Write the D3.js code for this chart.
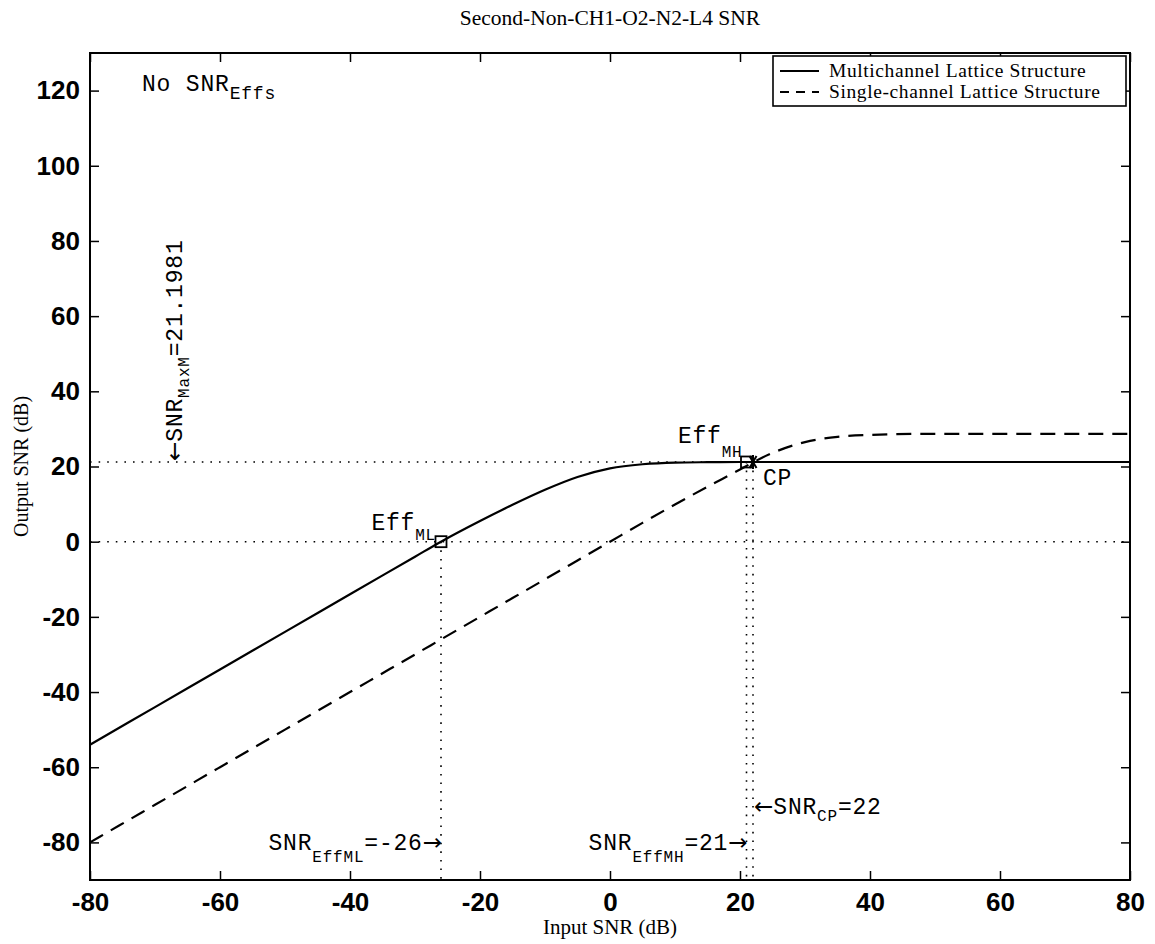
<!DOCTYPE html>
<html>
<head>
<meta charset="utf-8">
<script src="https://cdn.jsdelivr.net/npm/d3@7"></script>
<style>
  html, body { margin: 0; padding: 0; background: #fff; }
  svg { display: block; }
  .tick-label { font-family: "Liberation Sans", Arial, sans-serif; font-weight: bold; font-size: 26px; fill: #000; }
  .serif { font-family: "Liberation Serif", "Times New Roman", serif; fill: #000; }
  .mono { font-family: "Liberation Mono", "Courier New", monospace; fill: #000; letter-spacing: 0.8px; }
  .arrow { font-family: "DejaVu Sans", sans-serif; letter-spacing: 0; }
</style>
</head>
<body>
<svg id="chart" width="1155" height="944"></svg>
<script>
// Input SNR grid (dB)
const inputSNR = [-80, -70, -60, -50, -40, -30, -26, -20, -15, -10, -5, 0, 5, 10, 15, 20, 22, 25, 30, 35, 40, 50, 60, 70, 80];
// Output SNR of the multichannel lattice structure (dB)
const multichannelSNR = [-54, -44, -34, -24, -14, -4, 0, 5.5, 9.8, 13.8, 17.2, 19.5, 20.6, 21.05, 21.15, 21.2, 21.2, 21.2, 21.2, 21.2, 21.2, 21.2, 21.2, 21.2, 21.2];
// Output SNR of the single-channel lattice structure (dB)
const singleChannelSNR = [-80, -70, -60, -50, -40, -30, -26, -20, -15, -10, -5, 0, 5, 9.9, 14.6, 19.2, 21.1, 23.6, 26.5, 27.9, 28.4, 28.7, 28.7, 28.7, 28.7];

const xTickValues = [-80, -60, -40, -20, 0, 20, 40, 60, 80];
const yTickValues = [-80, -60, -40, -20, 0, 20, 40, 60, 80, 100, 120];

// Reference levels and crossing points
const snrMaxM = 21.1981;
const snrEffML = -26;
const snrEffMH = 21;
const snrCP = 22;

const seriesNames = ["Multichannel Lattice Structure", "Single-channel Lattice Structure"];

const svg = d3.select("#chart");
const plotLeft = 90, plotRight = 1130, plotTop = 53, plotBottom = 880;

const x = d3.scaleLinear().domain([-80, 80]).range([plotLeft, plotRight]);
const y = d3.scaleLinear().domain([-90, 130]).range([plotBottom, plotTop]);

// Title
svg.append("text").attr("class", "serif")
  .attr("x", (plotLeft + plotRight) / 2).attr("y", 25)
  .attr("text-anchor", "middle").attr("font-size", 21.5)
  .text("Second-Non-CH1-O2-N2-L4 SNR");

// Axis labels
svg.append("text").attr("class", "serif")
  .attr("x", (plotLeft + plotRight) / 2).attr("y", 934)
  .attr("text-anchor", "middle").attr("font-size", 21)
  .text("Input SNR (dB)");
svg.append("text").attr("class", "serif")
  .attr("transform", `translate(28,${(plotTop + plotBottom) / 2}) rotate(-90)`)
  .attr("text-anchor", "middle").attr("font-size", 20)
  .text("Output SNR (dB)");

// Axes with inward ticks on all four sides
const tickLen = 9;
const fmt = d => String(d);
const gx = svg.append("g").attr("transform", `translate(0,${plotBottom})`)
  .call(d3.axisBottom(x).tickValues(xTickValues).tickFormat(fmt).tickSizeInner(-tickLen).tickSizeOuter(0).tickPadding(13));
const gxTop = svg.append("g").attr("transform", `translate(0,${plotTop})`)
  .call(d3.axisTop(x).tickValues(xTickValues).tickSizeInner(-tickLen).tickSizeOuter(0).tickFormat(""));
const gy = svg.append("g").attr("transform", `translate(${plotLeft},0)`)
  .call(d3.axisLeft(y).tickValues(yTickValues).tickFormat(fmt).tickSizeInner(-tickLen).tickSizeOuter(0).tickPadding(10));
const gyRight = svg.append("g").attr("transform", `translate(${plotRight},0)`)
  .call(d3.axisRight(y).tickValues(yTickValues).tickSizeInner(-tickLen).tickSizeOuter(0).tickFormat(""));

[gx, gxTop, gy, gyRight].forEach(g => {
  g.select(".domain").remove();
  g.selectAll(".tick line").attr("stroke", "#000").attr("stroke-width", 1.5);
  g.selectAll(".tick text").attr("class", "tick-label").attr("font-family", null).attr("font-size", null).attr("fill", null);
});
gx.selectAll(".tick text").attr("dy", "0.71em");

// Plot frame
svg.append("rect")
  .attr("x", plotLeft).attr("y", plotTop)
  .attr("width", plotRight - plotLeft).attr("height", plotBottom - plotTop)
  .attr("fill", "none").attr("stroke", "#000").attr("stroke-width", 2);

const plot = svg.append("g");

// Dotted reference lines
const dotted = (x1, y1, x2, y2) => plot.append("line")
  .attr("x1", x(x1)).attr("y1", y(y1)).attr("x2", x(x2)).attr("y2", y(y2))
  .attr("stroke", "#000").attr("stroke-width", 1.6)
  .attr("stroke-dasharray", "1.6,7").attr("stroke-linecap", "butt");
dotted(-80, 0, 80, 0);
dotted(-80, snrMaxM, 80, snrMaxM);
dotted(snrEffML, 0, snrEffML, -90);
dotted(snrEffMH, snrMaxM, snrEffMH, -90);
dotted(snrCP, snrMaxM, snrCP, -90);

// Curves
const line = d3.line().x(d => x(d[0])).y(d => y(d[1])).curve(d3.curveMonotoneX);
plot.append("path")
  .attr("d", line(d3.zip(inputSNR, multichannelSNR)))
  .attr("fill", "none").attr("stroke", "#000").attr("stroke-width", 2.2);
plot.append("path")
  .attr("d", line(d3.zip(inputSNR, singleChannelSNR)))
  .attr("fill", "none").attr("stroke", "#000").attr("stroke-width", 2.2)
  .attr("stroke-dasharray", "15,9");

// Markers: squares at the efficiency points, asterisk at the crossing point
const sq = 11;
[[snrEffML, 0], [snrEffMH, snrMaxM]].forEach(p => {
  plot.append("rect")
    .attr("x", x(p[0]) - sq / 2).attr("y", y(p[1]) - sq / 2)
    .attr("width", sq).attr("height", sq)
    .attr("fill", "none").attr("stroke", "#000").attr("stroke-width", 1.8);
});
{
  const cx = x(snrCP), cy = y(snrMaxM), r = 7;
  const g = plot.append("g").attr("stroke", "#000").attr("stroke-width", 2);
  [0, 60, 120].forEach(a => {
    const t = a * Math.PI / 180;
    g.append("line")
      .attr("x1", cx - r * Math.cos(t)).attr("y1", cy - r * Math.sin(t))
      .attr("x2", cx + r * Math.cos(t)).attr("y2", cy + r * Math.sin(t));
  });
  g.append("line").attr("x1", cx).attr("y1", cy - r).attr("x2", cx).attr("y2", cy + r);
}

// Text with subscript parts; parts flagged as arrows use a font with full-size arrows
function subText(parent, xp, yp, parts, opts = {}) {
  const t = parent.append("text").attr("class", "mono")
    .attr("x", xp).attr("y", yp)
    .attr("font-size", opts.size || 23)
    .attr("text-anchor", opts.anchor || "start");
  if (opts.transform) t.attr("transform", opts.transform);
  const subDy = opts.subDy || 9;
  let shifted = false;
  parts.forEach(p => {
    const s = t.append("tspan").text(p.text);
    if (p.arrow) s.attr("class", "arrow");
    if (p.sub) {
      s.attr("font-size", p.size || 16);
      if (!shifted) { s.attr("dy", subDy); shifted = true; }
    } else if (shifted) {
      s.attr("dy", -subDy);
      shifted = false;
    }
  });
  return t;
}

subText(plot, x(-72), y(120), [{ text: "No SNR" }, { text: "Effs", sub: true, size: 18 }], { subDy: 8 });

subText(plot, x(snrEffML) - 5, y(0) - 12, [{ text: "Eff" }, { text: "ML", sub: true, size: 16 }], { anchor: "end", subDy: 10 });
subText(plot, x(snrEffMH) - 4, y(snrMaxM) - 19, [{ text: "Eff" }, { text: "MH", sub: true, size: 16 }], { anchor: "end", subDy: 14 });
subText(plot, x(snrCP) + 10, y(snrMaxM) + 23, [{ text: "CP" }], {});

subText(plot, x(snrEffML) + 1, y(-82), [{ text: "SNR" }, { text: "EffML", sub: true }, { text: "=-26" }, { text: "\u2192", arrow: true }], { anchor: "end", subDy: 12 });
subText(plot, x(snrEffMH) + 1, y(-82), [{ text: "SNR" }, { text: "EffMH", sub: true }, { text: "=21" }, { text: "\u2192", arrow: true }], { anchor: "end", subDy: 12 });
subText(plot, x(snrCP) + 1, y(-72.5), [{ text: "\u2190", arrow: true }, { text: "SNR" }, { text: "CP", sub: true }, { text: "=22" }], { subDy: 7 });

// Vertical annotation of the multichannel maximum
{
  const ax = x(-65.8), ay = y(snrMaxM) - 1;
  subText(plot, 0, 0, [{ text: "\u2190", arrow: true }, { text: "SNR" }, { text: "MaxM", sub: true }, { text: "=21.1981" }],
    { subDy: 7, transform: `translate(${ax},${ay}) rotate(-90)` });
}

// Legend
const lg = svg.append("g");
const lx = 773, ly = 56, lw = 1126 - 773, lh = 50;
lg.append("rect").attr("x", lx).attr("y", ly).attr("width", lw).attr("height", lh)
  .attr("fill", "#fff").attr("stroke", "#000").attr("stroke-width", 1.6);
const rows = [{ name: seriesNames[0], dash: null }, { name: seriesNames[1], dash: "9,7" }];
rows.forEach((r, i) => {
  const cy = ly + 15 + i * 21;
  lg.append("line").attr("x1", lx + 7).attr("x2", lx + 46).attr("y1", cy).attr("y2", cy)
    .attr("stroke", "#000").attr("stroke-width", 2)
    .attr("stroke-dasharray", r.dash);
  lg.append("text").attr("class", "serif").attr("x", lx + 56).attr("y", cy + 6)
    .attr("font-size", 19.5).attr("letter-spacing", 0.6).text(r.name);
});
</script>
</body>
</html>
